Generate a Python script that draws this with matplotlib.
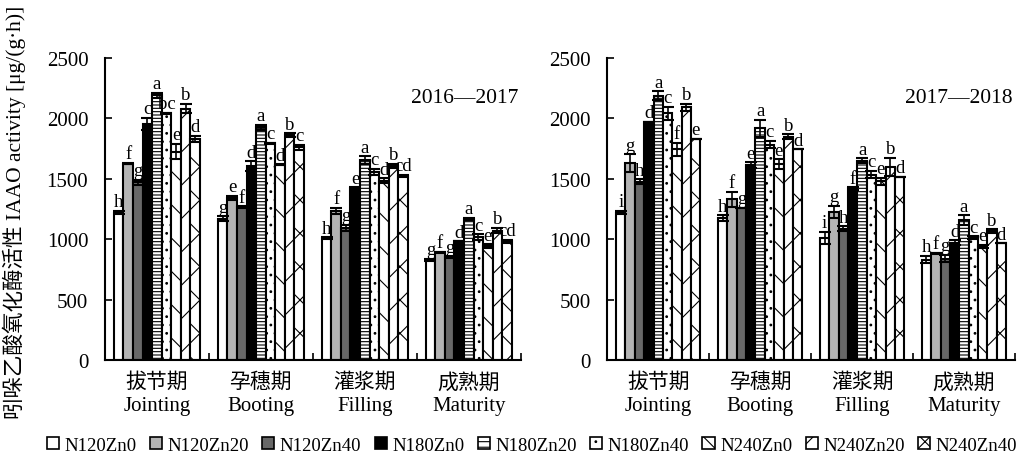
import matplotlib.pyplot as plt
import matplotlib.patches as mpatches
import numpy as np

plt.rcParams['font.family'] = ['Liberation Serif', 'Noto Sans CJK SC']
plt.rcParams['hatch.linewidth'] = 0.8

stages_cn = ['拔节期', '孕穗期', '灌浆期', '成熟期']
stages_en = ['Jointing', 'Booting', 'Filling', 'Maturity']
treatments = ['N120Zn0', 'N120Zn20', 'N120Zn40', 'N180Zn0', 'N180Zn20',
              'N180Zn40', 'N240Zn0', 'N240Zn20', 'N240Zn40']

# values per stage (rows) x treatment (cols)
vals_1617 = [[1220, 1625, 1470, 1955, 2190, 2040, 1725, 2080, 1830],
             [1170, 1342, 1267, 1605, 1925, 1795, 1615, 1862, 1760],
             [1010, 1235, 1095, 1425, 1655, 1555, 1485, 1608, 1525],
             [830, 892, 852, 982, 1165, 1015, 942, 1072, 982]]
err_1617 = [[15, 5, 20, 50, 20, 5, 65, 40, 25],
            [20, 15, 5, 40, 20, 5, 5, 15, 20],
            [5, 25, 25, 5, 30, 25, 20, 15, 10],
            [10, 5, 5, 0, 10, 25, 15, 20, 15]]
let_1617 = [['h', 'f', 'g', 'c', 'a', 'bc', 'e', 'b', 'd'],
            ['g', 'e', 'f', 'd', 'a', 'c', 'd', 'b', 'c'],
            ['h', 'f', 'g', 'e', 'a', 'c', 'd', 'b', 'cd'],
            ['g', 'f', 'g', 'd', 'a', 'c', 'e', 'b', 'cd']]

vals_1718 = [[1220, 1628, 1475, 1970, 2188, 2040, 1745, 2090, 1832],
             [1172, 1330, 1258, 1610, 1918, 1782, 1620, 1848, 1745],
             [1012, 1228, 1088, 1420, 1648, 1535, 1478, 1600, 1515],
             [832, 885, 840, 970, 1158, 1015, 940, 1068, 965]]
err_1718 = [[15, 75, 20, 0, 35, 55, 55, 30, 0],
            [25, 60, 0, 25, 70, 30, 40, 20, 0],
            [50, 50, 20, 10, 20, 30, 30, 75, 0],
            [30, 5, 30, 20, 40, 10, 15, 15, 0]]
let_1718 = [['i', 'g', 'h', 'd', 'a', 'c', 'f', 'b', 'e'],
            ['h', 'f', 'g', 'e', 'a', 'c', 'e', 'b', 'd'],
            ['i', 'g', 'h', 'f', 'a', 'c', 'e', 'b', 'd'],
            ['h', 'f', 'g', 'd', 'a', 'c', 'e', 'b', 'd']]

colors = ['white', '#b4b4b4', '#686868', 'black', 'white', 'white', 'white', 'white', 'white']
hatches = ['', '', '', '', '-----', '..', '\\', '/', 'x']
legend_hatches = ['', '', '', '', '---', '..', '\\\\', '//', 'xx']

fig = plt.figure(figsize=(10.19, 4.6), dpi=100)
ax1 = fig.add_axes([0.103, 0.215, 0.408, 0.657])
ax2 = fig.add_axes([0.596, 0.215, 0.400, 0.657])

width = 0.092
x = np.arange(len(stages_cn))


def draw(ax, vals, errs, lets, year):
    vals = np.array(vals)
    errs = np.array(errs)
    for j in range(len(treatments)):
        pos = x + (j - 4) * width
        ax.bar(pos, vals[:, j], width, color=colors[j], edgecolor='black',
               linewidth=1.5, hatch=hatches[j], label=treatments[j], zorder=2)
        ax.errorbar(pos, vals[:, j], yerr=errs[:, j], fmt='none', ecolor='black',
                    elinewidth=1.2, capsize=4, capthick=1.5, zorder=3)
        for i in range(len(stages_cn)):
            ax.text(pos[i], vals[i, j] + errs[i, j] + 5, lets[i][j],
                    ha='center', va='bottom', fontsize=13.5)
    ax.set_xlim(-0.5, 3.5)
    ax.set_ylim(0, 2500)
    ax.set_yticks(range(0, 2501, 500))
    ax.set_xticks(x)
    ax.set_xticklabels([c + '\n' + e for c, e in zip(stages_cn, stages_en)],
                       fontsize=15, linespacing=1.25)
    ax.set_xticks([0.5, 1.5, 2.5, 3.5], minor=True)
    ax.tick_params(axis='x', which='major', length=0, pad=9)
    ax.tick_params(axis='x', which='minor', direction='in', length=5, width=1.2)
    ax.tick_params(axis='y', direction='in', length=5, width=1.2, labelsize=15, pad=12)
    for s in ['top', 'right']:
        ax.spines[s].set_visible(False)
    for s in ['left', 'bottom']:
        ax.spines[s].set_linewidth(1.5)
    ax.text(0.995, 0.87, year, transform=ax.transAxes, ha='right', va='center', fontsize=15.5)


draw(ax1, vals_1617, err_1617, let_1617, '2016—2017')
draw(ax2, vals_1718, err_1718, let_1718, '2017—2018')

ax1.set_ylabel('吲哚乙酸氧化酶活性 IAAO activity [μg/(g·h)]', fontsize=15.5)
ax1.yaxis.set_label_coords(-0.19, 0.493)

handles = [mpatches.Patch(facecolor=colors[j], edgecolor='black', linewidth=1.2,
                          hatch=legend_hatches[j], label=treatments[j])
           for j in range(len(treatments))]
fig.legend(handles=handles, loc='lower center', bbox_to_anchor=(0.522, -0.025), ncol=9,
           frameon=False, fontsize=13.5, handlelength=0.65, handleheight=0.65,
           handletextpad=0.3, columnspacing=0.7)

fig.savefig('out.png', dpi=100)
